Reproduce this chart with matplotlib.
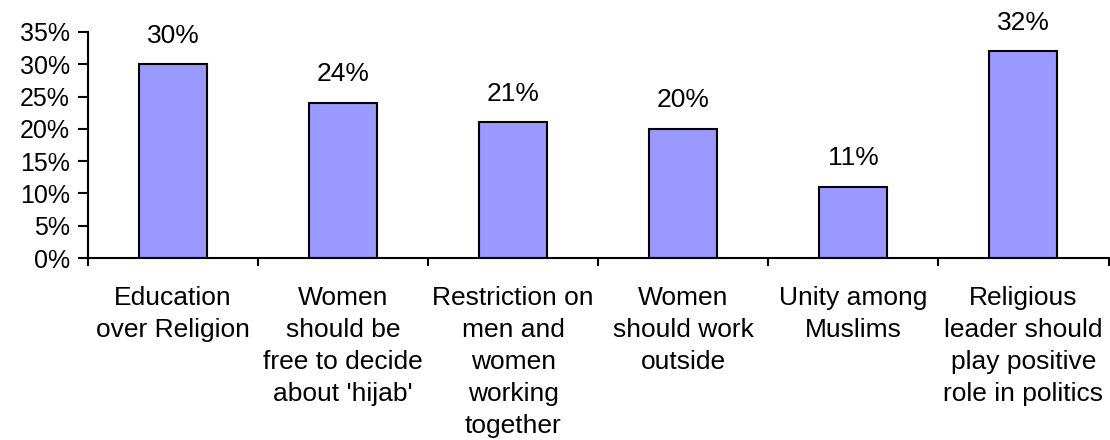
import numpy as np
import matplotlib
matplotlib.use("Agg")
import matplotlib.pyplot as plt
from matplotlib.ticker import FuncFormatter, FixedLocator

plt.rcParams['font.family'] = ['Liberation Sans', 'DejaVu Sans']

categories = ["Education\nover Religion",
              "Women\nshould be\nfree to decide\nabout 'hijab'",
              "Restriction on\nmen and\nwomen\nworking\ntogether",
              "Women\nshould work\noutside",
              "Unity among\nMuslims",
              "Religious\nleader should\nplay positive\nrole in politics"]
values = [30, 24, 21, 20, 11, 32]

fig = plt.figure(figsize=(11.1, 4.4), dpi=100)
ax = fig.add_axes([88/1110, 1-258/440, (1108.5-88)/1110, (258-32)/440])

x = np.arange(len(values))
ax.bar(x, values, width=0.4, color='#9999FF', edgecolor='black', linewidth=1.5)

for xi, v in zip(x, values):
    ax.annotate(f"{v}%", (xi, v), xytext=(0, 12), textcoords='offset points',
                ha='center', va='bottom', fontsize=19)

ax.set_xlim(-0.5, len(values)-0.5)
ax.set_ylim(0, 35)
ax.set_yticks(np.arange(0, 36, 5))
ax.yaxis.set_major_formatter(FuncFormatter(lambda v, p: f"{int(v)}%"))
ax.tick_params(axis='y', labelsize=18, length=7, width=1.5, direction='out', pad=6)

ax.xaxis.set_major_locator(FixedLocator(np.arange(-0.5, len(values), 1.0)))
ax.xaxis.set_major_formatter(FuncFormatter(lambda v, p: ""))
ax.xaxis.set_minor_locator(FixedLocator(x))
ax.set_xticklabels(categories, minor=True, fontsize=19, linespacing=1.42)
ax.tick_params(axis='x', which='minor', length=0, pad=20)
ax.tick_params(axis='x', which='major', length=6, width=1.5, direction='out')

for side in ['top', 'right']:
    ax.spines[side].set_visible(False)
for side in ['left', 'bottom']:
    ax.spines[side].set_linewidth(1.5)

fig.savefig("out.png", dpi=100)
